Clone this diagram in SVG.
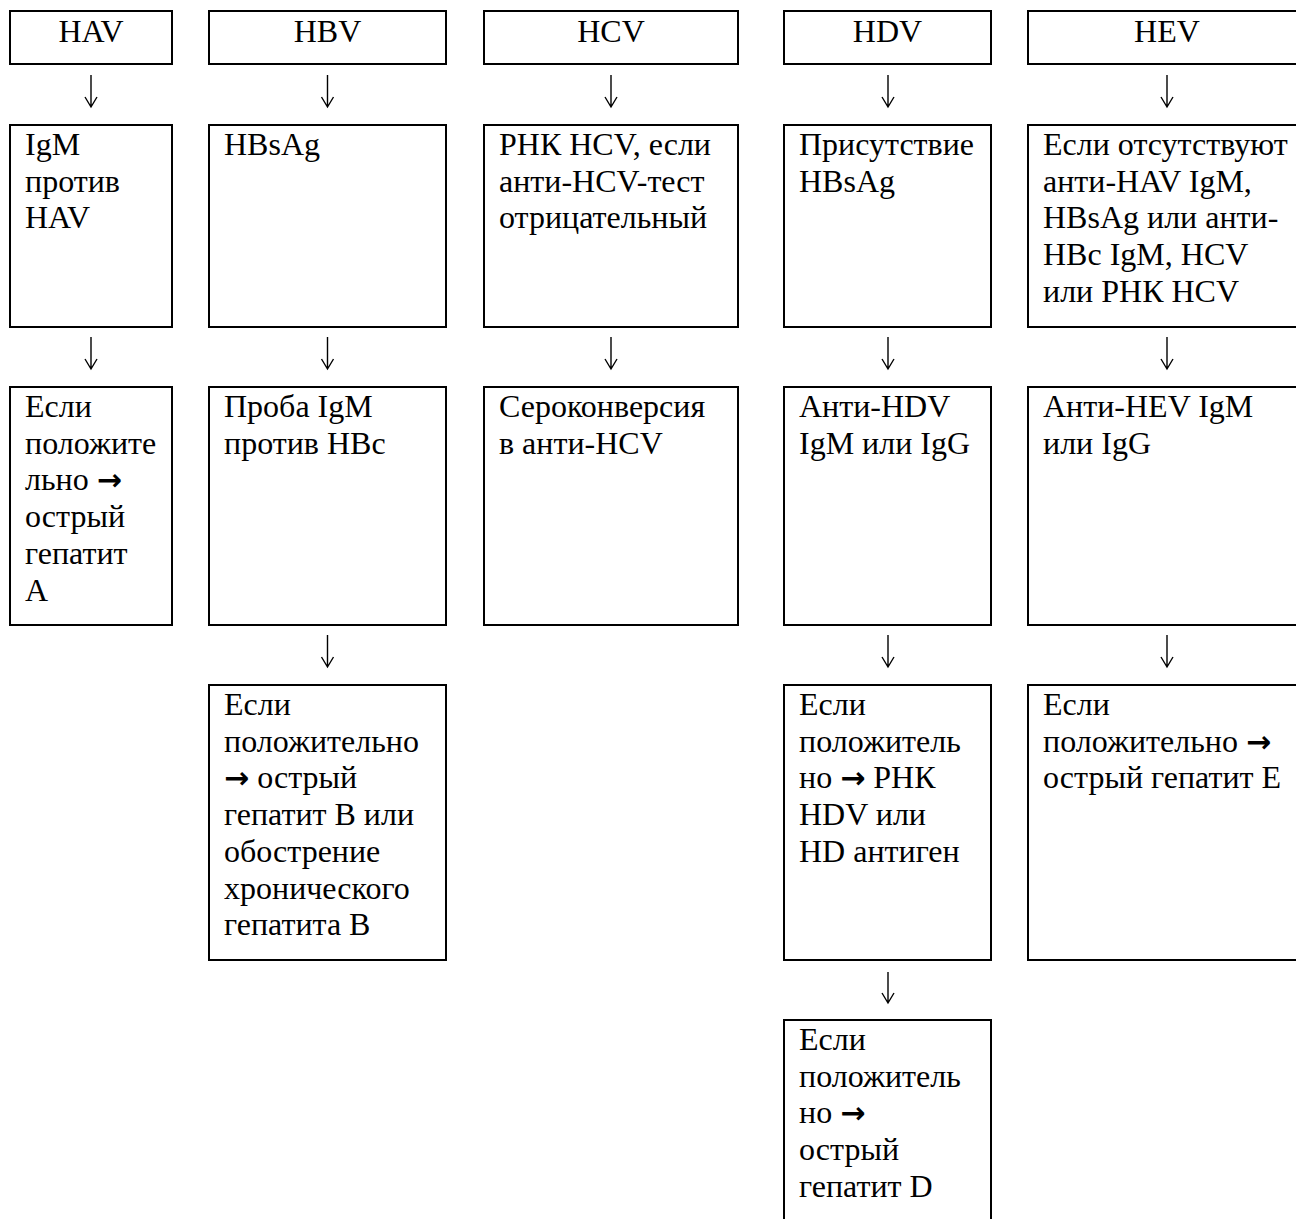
<svg xmlns="http://www.w3.org/2000/svg" width="1296" height="1219" viewBox="0 0 1296 1219">
<style>
.box{fill:#fff;stroke:#000;stroke-width:2}
.t{font-family:"Liberation Serif","Times New Roman",serif;font-size:32px;fill:#000}
.h{text-anchor:middle}
.ar{fill:none;stroke:#000;stroke-width:1.4}
.ra{font-family:"DejaVu Sans",sans-serif;font-weight:bold;font-size:30px}
</style>
<rect width="1296" height="1219" fill="#fff"/>
<g id="connectors">
<path class="ar" d="M91,75V107M85,97L91,107L97,97"/>
<path class="ar" d="M327.5,75V107M321.5,97L327.5,107L333.5,97"/>
<path class="ar" d="M611,75V107M605,97L611,107L617,97"/>
<path class="ar" d="M888,75V107M882,97L888,107L894,97"/>
<path class="ar" d="M1167,75V107M1161,97L1167,107L1173,97"/>
<path class="ar" d="M91,337V369M85,359L91,369L97,359"/>
<path class="ar" d="M327.5,337V369M321.5,359L327.5,369L333.5,359"/>
<path class="ar" d="M611,337V369M605,359L611,369L617,359"/>
<path class="ar" d="M888,337V369M882,359L888,369L894,359"/>
<path class="ar" d="M1167,337V369M1161,359L1167,369L1173,359"/>
<path class="ar" d="M327.5,635V667M321.5,657L327.5,667L333.5,657"/>
<path class="ar" d="M888,635V667M882,657L888,667L894,657"/>
<path class="ar" d="M1167,635V667M1161,657L1167,667L1173,657"/>
<path class="ar" d="M888,972V1003M882,993L888,1003L894,993"/>
</g>
<g id="hav">
<rect class="box" x="10" y="11" width="162" height="53"/>
<text class="t h" x="91" y="42">HAV</text>
</g>
<g id="hbv">
<rect class="box" x="209" y="11" width="237" height="53"/>
<text class="t h" x="327.5" y="42">HBV</text>
</g>
<g id="hcv">
<rect class="box" x="484" y="11" width="254" height="53"/>
<text class="t h" x="611" y="42">HCV</text>
</g>
<g id="hdv">
<rect class="box" x="784" y="11" width="207" height="53"/>
<text class="t h" x="887.5" y="42">HDV</text>
</g>
<g id="hev">
<rect class="box" x="1028" y="11" width="280" height="53"/>
<text class="t h" x="1167" y="42">HEV</text>
</g>
<g id="hav-igm">
<rect class="box" x="10" y="125" width="162" height="202"/>
<text class="t"><tspan x="25" y="155">IgM</tspan><tspan x="25" dy="36.7">против</tspan><tspan x="25" dy="36.7">HAV</tspan></text>
</g>
<g id="hbv-hbsag">
<rect class="box" x="209" y="125" width="237" height="202"/>
<text class="t" x="224" y="155">HBsAg</text>
</g>
<g id="hcv-rna">
<rect class="box" x="484" y="125" width="254" height="202"/>
<text class="t"><tspan x="499" y="155">РНК HCV, если</tspan><tspan x="499" dy="36.7">анти-HCV-тест</tspan><tspan x="499" dy="36.7">отрицательный</tspan></text>
</g>
<g id="hdv-hbsag">
<rect class="box" x="784" y="125" width="207" height="202"/>
<text class="t"><tspan x="799" y="155">Присутствие</tspan><tspan x="799" dy="36.7">HBsAg</tspan></text>
</g>
<g id="hev-absent">
<rect class="box" x="1028" y="125" width="280" height="202"/>
<text class="t"><tspan x="1043" y="155">Если отсутствуют</tspan><tspan x="1043" dy="36.7">анти-HAV IgM,</tspan><tspan x="1043" dy="36.7">HBsAg или анти-</tspan><tspan x="1043" dy="36.7">HBc IgM, HCV</tspan><tspan x="1043" dy="36.7">или РНК HCV</tspan></text>
</g>
<g id="hav-result">
<rect class="box" x="10" y="387" width="162" height="238"/>
<text class="t"><tspan x="25" y="417">Если</tspan><tspan x="25" dy="36.7">положите</tspan><tspan x="25" dy="36.7">льно <tspan class="ra">→</tspan></tspan><tspan x="25" dy="36.7">острый</tspan><tspan x="25" dy="36.7">гепатит</tspan><tspan x="25" dy="36.7">А</tspan></text>
</g>
<g id="hbv-igm">
<rect class="box" x="209" y="387" width="237" height="238"/>
<text class="t"><tspan x="224" y="417">Проба IgM</tspan><tspan x="224" dy="36.7">против HBc</tspan></text>
</g>
<g id="hcv-sero">
<rect class="box" x="484" y="387" width="254" height="238"/>
<text class="t"><tspan x="499" y="417">Сероконверсия</tspan><tspan x="499" dy="36.7">в анти-HCV</tspan></text>
</g>
<g id="hdv-anti">
<rect class="box" x="784" y="387" width="207" height="238"/>
<text class="t"><tspan x="799" y="417">Анти-HDV</tspan><tspan x="799" dy="36.7">IgM или IgG</tspan></text>
</g>
<g id="hev-anti">
<rect class="box" x="1028" y="387" width="280" height="238"/>
<text class="t"><tspan x="1043" y="417">Анти-HEV IgM</tspan><tspan x="1043" dy="36.7">или IgG</tspan></text>
</g>
<g id="hbv-result">
<rect class="box" x="209" y="685" width="237" height="275"/>
<text class="t"><tspan x="224" y="715">Если</tspan><tspan x="224" dy="36.7">положительно</tspan><tspan x="224" dy="36.7"><tspan class="ra">→</tspan> острый</tspan><tspan x="224" dy="36.7">гепатит В или</tspan><tspan x="224" dy="36.7">обострение</tspan><tspan x="224" dy="36.7">хронического</tspan><tspan x="224" dy="36.7">гепатита В</tspan></text>
</g>
<g id="hdv-rna">
<rect class="box" x="784" y="685" width="207" height="275"/>
<text class="t"><tspan x="799" y="715">Если</tspan><tspan x="799" dy="36.7">положитель</tspan><tspan x="799" dy="36.7">но <tspan class="ra">→</tspan> РНК</tspan><tspan x="799" dy="36.7">HDV или</tspan><tspan x="799" dy="36.7">HD антиген</tspan></text>
</g>
<g id="hev-result">
<rect class="box" x="1028" y="685" width="280" height="275"/>
<text class="t"><tspan x="1043" y="715">Если</tspan><tspan x="1043" dy="36.7">положительно <tspan class="ra">→</tspan></tspan><tspan x="1043" dy="36.7">острый гепатит Е</tspan></text>
</g>
<g id="hdv-result">
<rect class="box" x="784" y="1020" width="207" height="220"/>
<text class="t"><tspan x="799" y="1050">Если</tspan><tspan x="799" dy="36.7">положитель</tspan><tspan x="799" dy="36.7">но <tspan class="ra">→</tspan></tspan><tspan x="799" dy="36.7">острый</tspan><tspan x="799" dy="36.7">гепатит D</tspan></text>
</g>
</svg>
